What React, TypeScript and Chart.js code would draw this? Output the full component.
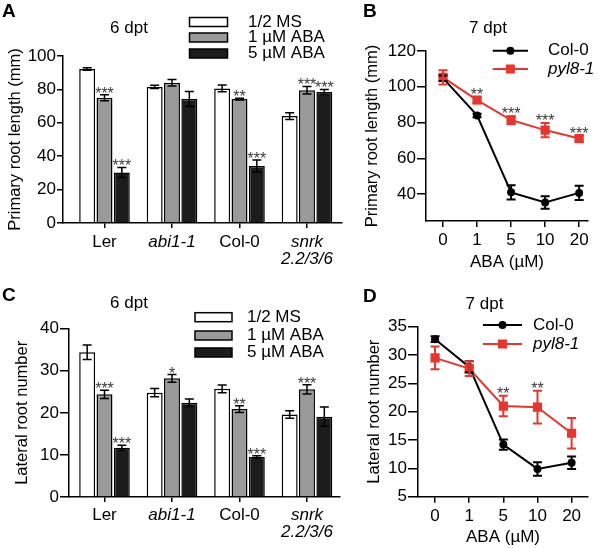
import React, { useEffect, useRef } from 'react';
import { Chart, registerables } from 'chart.js';

Chart.register(...registerables);

const FONT = "'Liberation Sans', Arial, Helvetica, sans-serif";
const RED = '#e8352d';
const FS = 17;

// ---------- Panels A & C (bar charts) ----------
const genotypeLabels: (string | string[])[] = ['Ler', 'abi1-1', 'Col-0', ['snrk', '2.2/3/6']];
const genotypeItalic = [false, true, false, true];
const treatmentLabels = ['1/2 MS', '1 µM ABA', '5 µM ABA'];
const treatmentColors = ['#ffffff', '#9a9a9a', '#1c1c1c'];

// A: primary root length (mm), 6 dpt
const primaryMS = [92.2, 81.5, 80.6, 64.0];
const primaryMSErr = [0.8, 1.0, 2.0, 2.0];
const primaryABA1 = [75.0, 84.0, 74.2, 79.5];
const primaryABA1Err = [1.8, 2.0, 0.5, 2.3];
const primaryABA5 = [30.3, 74.2, 34.2, 78.5];
const primaryABA5Err = [3.0, 4.5, 3.5, 1.5];
const primaryMSStars = ['', '', '', ''];
const primaryABA1Stars = ['***', '', '**', '***'];
const primaryABA5Stars = ['***', '', '***', '***'];

// C: lateral root number, 6 dpt
const lateralMS = [34.4, 24.8, 25.7, 19.6];
const lateralMSErr = [1.7, 1.0, 0.9, 0.9];
const lateralABA1 = [24.4, 28.2, 20.9, 25.6];
const lateralABA1Err = [1.0, 0.9, 0.8, 1.1];
const lateralABA5 = [11.7, 22.4, 9.5, 19.1];
const lateralABA5Err = [0.6, 0.9, 0.3, 2.3];
const lateralMSStars = ['', '', '', ''];
const lateralABA1Stars = ['***', '*', '**', '***'];
const lateralABA5Stars = ['***', '', '***', ''];

// ---------- Panels B & D (line charts) ----------
const abaLabels = ['0', '1', '5', '10', '20'];
const lineSeriesLabels = ['Col-0', 'pyl8-1'];

// B: primary root length (mm), 7 dpt
const primaryCol0 = [104.8, 84.0, 41.0, 35.3, 40.7];
const primaryCol0Err = [1.5, 1.0, 4.0, 3.5, 4.0];
const primaryPyl8 = [105.3, 92.6, 81.4, 75.8, 71.1];
const primaryPyl8Err = [4.0, 1.5, 2.2, 4.0, 1.5];
const primaryLineStars = ['', '**', '***', '***', '***'];

// D: lateral root number, 7 dpt
const lateralCol0 = [32.8, 27.9, 14.2, 9.9, 11.0];
const lateralCol0Err = [0.5, 1.0, 0.9, 1.2, 1.1];
const lateralPyl8 = [29.5, 27.6, 21.0, 20.8, 16.2];
const lateralPyl8Err = [2.0, 1.3, 1.8, 2.9, 2.7];
const lateralLineStars = ['', '', '**', '**', ''];

type Box = { left: number; top: number; right: number; bottom: number };

function drawText(ctx: CanvasRenderingContext2D, text: string, x: number, y: number, font: string, align: CanvasTextAlign, baseline: CanvasTextBaseline, color = '#000') {
  ctx.font = font;
  ctx.textAlign = align;
  ctx.textBaseline = baseline;
  ctx.fillStyle = color;
  ctx.fillText(text, x, y);
}

const border = { display: true, color: '#000', width: 1.5 };

function makeBarConfig(p: {
  W: number; H: number; area: Box;
  series: number[][]; errors: number[][]; stars: string[][];
  yMax: number; yStep: number; yTitle: string; yTitlePad: number; yTickLen: number;
  xMin: number; xMax: number; xTickPad: number;
  letter: string; letterXY: [number, number];
  title: string; titleXY: [number, number];
  legend: { x: number; w: number; h: number; rows: number[]; textX: number };
}) {
  const decor = {
    id: 'barDecor',
    afterDatasetsDraw(chart: any) {
      const ctx: CanvasRenderingContext2D = chart.ctx;
      const ys = chart.scales.y;
      ctx.save();
      chart.data.datasets.forEach((_ds: any, i: number) => {
        const meta = chart.getDatasetMeta(i);
        meta.data.forEach((el: any, j: number) => {
          const v = p.series[i][j];
          const e = p.errors[i][j];
          const x = el.x;
          const t = ys.getPixelForValue(v + e);
          const b = ys.getPixelForValue(v - e);
          const c = 4.5;
          ctx.strokeStyle = '#000';
          ctx.lineWidth = 1.5;
          ctx.beginPath();
          ctx.moveTo(x, t); ctx.lineTo(x, b);
          ctx.moveTo(x - c, t); ctx.lineTo(x + c, t);
          ctx.moveTo(x - c, b); ctx.lineTo(x + c, b);
          ctx.stroke();
          const s = p.stars[i][j];
          if (s) drawText(ctx, s, x, t + 4, `16px ${FONT}`, 'center', 'alphabetic', '#3a3a3a');
        });
      });
      ctx.restore();
    },
    afterDraw(chart: any) {
      const ctx: CanvasRenderingContext2D = chart.ctx;
      ctx.save();
      drawText(ctx, p.letter, p.letterXY[0], p.letterXY[1], `bold 19px ${FONT}`, 'left', 'alphabetic');
      drawText(ctx, p.title, p.titleXY[0], p.titleXY[1], `${FS}px ${FONT}`, 'center', 'middle');
      chart.data.datasets.forEach((ds: any, i: number) => {
        const y = p.legend.rows[i];
        ctx.fillStyle = ds.backgroundColor;
        ctx.fillRect(p.legend.x, y - p.legend.h / 2, p.legend.w, p.legend.h);
        ctx.strokeStyle = '#000';
        ctx.lineWidth = 1.5;
        ctx.strokeRect(p.legend.x, y - p.legend.h / 2, p.legend.w, p.legend.h);
        drawText(ctx, ds.label, p.legend.textX, y, `${FS}px ${FONT}`, 'left', 'middle');
      });
      ctx.restore();
    },
  };

  return {
    type: 'bar',
    data: {
      datasets: treatmentLabels.map((label, i) => ({
        label,
        data: p.series[i].map((y, x) => ({ x, y })),
        backgroundColor: treatmentColors[i],
        borderColor: '#000',
        borderWidth: 1.5,
        barPercentage: 0.92,
        categoryPercentage: 0.77,
      })),
    },
    options: {
      animation: false,
      responsive: false,
      devicePixelRatio: 1,
      layout: { padding: { left: 0, top: p.area.top, right: p.W - p.area.right, bottom: 0 } },
      plugins: { legend: { display: false }, tooltip: { enabled: false }, title: { display: false } },
      scales: {
        x: {
          type: 'linear',
          min: p.xMin,
          max: p.xMax,
          offset: false,
          afterFit: (s: any) => { s.height = p.H - p.area.bottom; },
          border,
          grid: { display: true, drawOnChartArea: false, drawTicks: true, tickLength: 5, color: '#000', lineWidth: 1.5, offset: false },
          ticks: {
            stepSize: 1,
            includeBounds: false,
            autoSkip: false,
            maxRotation: 0,
            padding: p.xTickPad,
            color: '#000',
            font: (c: any) => ({
              family: FONT,
              size: FS,
              lineHeight: 1.0,
              style: c.tick && genotypeItalic[c.tick.value] ? 'italic' : 'normal',
            }),
            callback: (v: any) => (Number.isInteger(v) && genotypeLabels[v] !== undefined ? genotypeLabels[v] : ''),
          },
        },
        y: {
          type: 'linear',
          min: 0,
          max: p.yMax,
          afterFit: (s: any) => { s.width = p.area.left; },
          border,
          grid: { display: true, drawOnChartArea: false, drawTicks: true, tickLength: p.yTickLen, color: '#000', lineWidth: 1.5 },
          ticks: { stepSize: p.yStep, padding: 1, color: '#000', font: { family: FONT, size: FS } },
          title: { display: true, text: p.yTitle, color: '#000', font: { family: FONT, size: 16.5 }, padding: { top: p.yTitlePad, bottom: 0 } },
        },
      },
    },
    plugins: [decor],
  };
}

function makeLineConfig(p: {
  W: number; H: number; area: Box;
  col: number[]; colErr: number[]; pyl: number[]; pylErr: number[]; stars: string[];
  yMin: number; yMax: number; yStep: number; yTitle: string; yTitlePad: number; yTickLen: number;
  xMin: number; xMax: number; xTickPad: number; xTitlePad: number;
  letter: string; letterXY: [number, number];
  title: string; titleXY: [number, number];
  legend: { x1: number; x2: number; rows: number[]; textX: number };
}) {
  const colors = ['#000000', RED];
  const values = [p.col, p.pyl];
  const errs = [p.colErr, p.pylErr];
  const decor = {
    id: 'lineDecor',
    afterDatasetsDraw(chart: any) {
      const ctx: CanvasRenderingContext2D = chart.ctx;
      const ys = chart.scales.y;
      ctx.save();
      [0, 1].forEach((i) => {
        const meta = chart.getDatasetMeta(i);
        meta.data.forEach((el: any, j: number) => {
          const v = values[i][j];
          const e = errs[i][j];
          const x = el.x;
          const t = ys.getPixelForValue(v + e);
          const b = ys.getPixelForValue(v - e);
          const c = 4.5;
          ctx.strokeStyle = colors[i];
          ctx.lineWidth = 2;
          ctx.beginPath();
          ctx.moveTo(x, t); ctx.lineTo(x, b);
          ctx.moveTo(x - c, t); ctx.lineTo(x + c, t);
          ctx.moveTo(x - c, b); ctx.lineTo(x + c, b);
          ctx.stroke();
        });
      });
      const meta = chart.getDatasetMeta(1);
      meta.data.forEach((el: any, j: number) => {
        const s = p.stars[j];
        if (!s) return;
        const t = ys.getPixelForValue(Math.max(p.pyl[j] + p.pylErr[j], p.col[j] + p.colErr[j]));
        drawText(ctx, s, el.x, t + 3, `16px ${FONT}`, 'center', 'alphabetic', '#3a3a3a');
      });
      ctx.restore();
    },
    afterDraw(chart: any) {
      const ctx: CanvasRenderingContext2D = chart.ctx;
      ctx.save();
      drawText(ctx, p.letter, p.letterXY[0], p.letterXY[1], `bold 19px ${FONT}`, 'left', 'alphabetic');
      drawText(ctx, p.title, p.titleXY[0], p.titleXY[1], `${FS}px ${FONT}`, 'center', 'middle');
      chart.data.datasets.forEach((ds: any, i: number) => {
        const y = p.legend.rows[i];
        ctx.strokeStyle = ds.borderColor;
        ctx.lineWidth = 2;
        ctx.beginPath();
        ctx.moveTo(p.legend.x1, y);
        ctx.lineTo(p.legend.x2, y);
        ctx.stroke();
        const cx = (p.legend.x1 + p.legend.x2) / 2;
        ctx.fillStyle = ds.backgroundColor;
        if (ds.pointStyle === 'rect') {
          ctx.fillRect(cx - 4.5, y - 4.5, 9, 9);
        } else {
          ctx.beginPath();
          ctx.arc(cx, y, 4, 0, Math.PI * 2);
          ctx.fill();
        }
        drawText(ctx, ds.label, p.legend.textX, y, `${i === 1 ? 'italic ' : ''}${FS}px ${FONT}`, 'left', 'middle');
      });
      ctx.restore();
    },
  };

  return {
    type: 'line',
    data: {
      datasets: [
        {
          label: lineSeriesLabels[0],
          data: p.col.map((y, x) => ({ x, y })),
          borderColor: colors[0],
          backgroundColor: colors[0],
          borderWidth: 2,
          pointStyle: 'circle',
          pointRadius: 4,
          pointBorderWidth: 0,
          order: 1,
        },
        {
          label: lineSeriesLabels[1],
          data: p.pyl.map((y, x) => ({ x, y })),
          borderColor: colors[1],
          backgroundColor: colors[1],
          borderWidth: 2,
          pointStyle: 'rect',
          pointRadius: 6.5,
          pointBorderWidth: 0,
          order: 0,
        },
      ],
    },
    options: {
      animation: false,
      responsive: false,
      devicePixelRatio: 1,
      layout: { padding: { left: 0, top: p.area.top, right: p.W - p.area.right, bottom: 0 } },
      plugins: { legend: { display: false }, tooltip: { enabled: false }, title: { display: false } },
      scales: {
        x: {
          type: 'linear',
          min: p.xMin,
          max: p.xMax,
          offset: false,
          afterFit: (s: any) => { s.height = p.H - p.area.bottom; },
          border,
          grid: { display: true, drawOnChartArea: false, drawTicks: true, tickLength: 6, color: '#000', lineWidth: 1.5 },
          ticks: {
            stepSize: 1,
            includeBounds: false,
            autoSkip: false,
            maxRotation: 0,
            padding: p.xTickPad,
            color: '#000',
            font: { family: FONT, size: FS },
            callback: (v: any) => (Number.isInteger(v) && abaLabels[v] !== undefined ? abaLabels[v] : ''),
          },
          title: { display: true, text: 'ABA (µM)', color: '#000', font: { family: FONT, size: FS }, padding: { top: 0, bottom: p.xTitlePad } },
        },
        y: {
          type: 'linear',
          min: p.yMin,
          max: p.yMax,
          afterFit: (s: any) => { s.width = p.area.left; },
          border,
          grid: { display: true, drawOnChartArea: false, drawTicks: true, tickLength: p.yTickLen, color: '#000', lineWidth: 1.5 },
          ticks: { stepSize: p.yStep, includeBounds: false, padding: 1, color: '#000', font: { family: FONT, size: FS } },
          title: { display: true, text: p.yTitle, color: '#000', font: { family: FONT, size: 16.5 }, padding: { top: p.yTitlePad, bottom: 0 } },
        },
      },
    },
    plugins: [decor],
  };
}

function ChartCanvas({ config, left, top, width, height }: { config: any; left: number; top: number; width: number; height: number }) {
  const ref = useRef<HTMLCanvasElement>(null);
  useEffect(() => {
    const chart = new Chart(ref.current as HTMLCanvasElement, config);
    return () => chart.destroy();
  }, [config]);
  return (
    <canvas
      ref={ref}
      width={width}
      height={height}
      style={{ position: 'absolute', left, top, width, height, display: 'block' }}
    />
  );
}

const configA = makeBarConfig({
  W: 350, H: 270, area: { left: 63, top: 56, right: 342, bottom: 223 },
  series: [primaryMS, primaryABA1, primaryABA5],
  errors: [primaryMSErr, primaryABA1Err, primaryABA5Err],
  stars: [primaryMSStars, primaryABA1Stars, primaryABA5Stars],
  yMax: 100, yStep: 20, yTitle: 'Primary root length (mm)', yTitlePad: 6, yTickLen: 6,
  xMin: (63 - 104.5) / 67.5, xMax: (342 - 104.5) / 67.5, xTickPad: 6,
  letter: 'A', letterXY: [2, 17],
  title: '6 dpt', titleXY: [129, 28],
  legend: { x: 189.5, w: 38, h: 9, rows: [22, 37.5, 53.5], textX: 248 },
});

const configC = makeBarConfig({
  W: 350, H: 278, area: { left: 69, top: 58.7, right: 340, bottom: 227 },
  series: [lateralMS, lateralABA1, lateralABA5],
  errors: [lateralMSErr, lateralABA1Err, lateralABA5Err],
  stars: [lateralMSStars, lateralABA1Stars, lateralABA5Stars],
  yMax: 40, yStep: 10, yTitle: 'Lateral root number', yTitlePad: 13, yTickLen: 9,
  xMin: (69 - 104.5) / 67.5, xMax: (340 - 104.5) / 67.5, xTickPad: 4.5,
  letter: 'C', letterXY: [2, 31],
  title: '6 dpt', titleXY: [129, 33],
  legend: { x: 195, w: 37, h: 9, rows: [47.2, 65.5, 82.5], textX: 247 },
});

const configB = makeLineConfig({
  W: 250, H: 280, area: { left: 76, top: 51, right: 238, bottom: 221 },
  col: primaryCol0, colErr: primaryCol0Err, pyl: primaryPyl8, pylErr: primaryPyl8Err, stars: primaryLineStars,
  yMin: 25, yMax: 120, yStep: 20, yTitle: 'Primary root length (mm)', yTitlePad: 12.3, yTickLen: 9,
  xMin: -0.5, xMax: 4.26, xTickPad: 2.8, xTitlePad: 7.8,
  letter: 'B', letterXY: [13, 17],
  title: '7 dpt', titleXY: [138, 28],
  legend: { x1: 142.7, x2: 178, rows: [50.7, 69], textX: 198 },
});

const configD = makeLineConfig({
  W: 250, H: 278, area: { left: 68, top: 56.7, right: 238, bottom: 226.7 },
  col: lateralCol0, colErr: lateralCol0Err, pyl: lateralPyl8, pylErr: lateralPyl8Err, stars: lateralLineStars,
  yMin: 5, yMax: 35, yStep: 5, yTitle: 'Lateral root number', yTitlePad: 14.3, yTickLen: 10,
  xMin: -0.5, xMax: 4.48, xTickPad: 3.1, xTitlePad: 0.8,
  letter: 'D', letterXY: [13, 32],
  title: '7 dpt', titleXY: [134.5, 34],
  legend: { x1: 133, x2: 172, rows: [55, 74], textX: 183 },
});

export default function App() {
  return (
    <div style={{ position: 'absolute', left: 0, top: 0, width: 600, height: 548, background: '#fff', overflow: 'hidden' }}>
      <ChartCanvas config={configA} left={0} top={0} width={350} height={270} />
      <ChartCanvas config={configB} left={350} top={0} width={250} height={280} />
      <ChartCanvas config={configC} left={0} top={270} width={350} height={278} />
      <ChartCanvas config={configD} left={350} top={270} width={250} height={278} />
    </div>
  );
}
